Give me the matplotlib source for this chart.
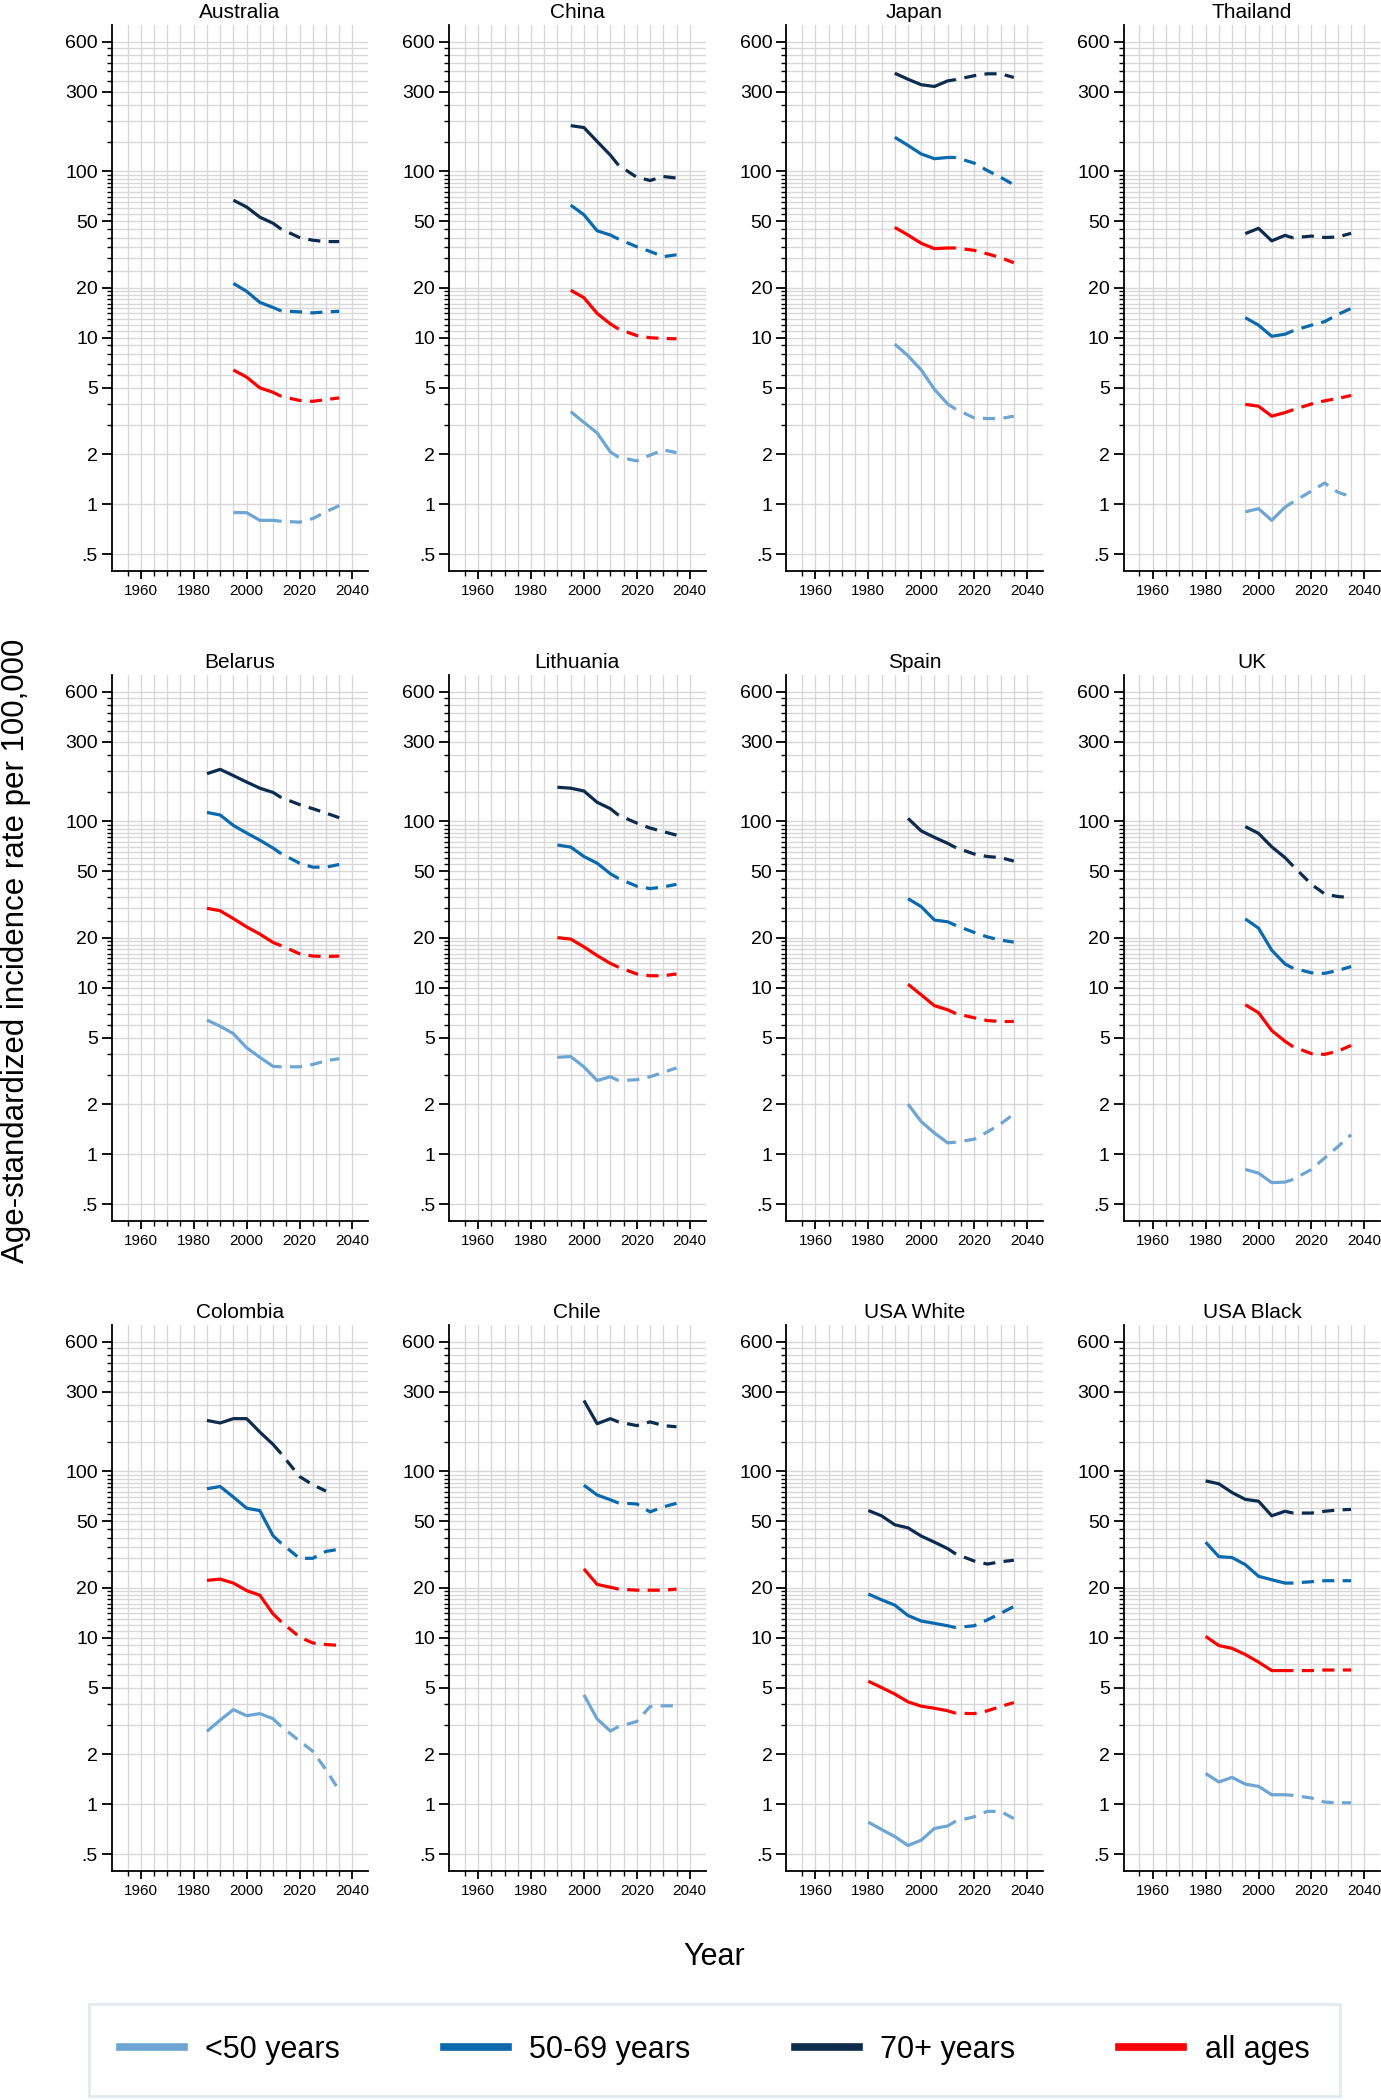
import numpy as np
import matplotlib
matplotlib.use('Agg')
import matplotlib.pyplot as plt
from matplotlib.lines import Line2D
from matplotlib.ticker import FixedLocator, FixedFormatter, NullFormatter

plt.rcParams['font.family'] = ['Liberation Sans', 'DejaVu Sans']

countries = ['Australia', 'China', 'Japan', 'Thailand',
             'Belarus', 'Lithuania', 'Spain', 'UK',
             'Colombia', 'Chile', 'USA White', 'USA Black']
obs_start = [1995, 1995, 1990, 1995, 1985, 1990, 1995, 1995, 1985, 2000, 1980, 1980]
last_obs = 2013
proj_years = [2020, 2025, 2030, 2035]

# <50 years
u50_obs = [[0.89, 0.89, 0.80, 0.80, 0.79],
           [3.6, 3.1, 2.68, 2.06, 1.92],
           [9.15, 7.8, 6.4, 4.9, 4.0, 3.73],
           [0.90, 0.94, 0.80, 0.96, 1.03],
           [6.4, 5.87, 5.3, 4.36, 3.82, 3.37, 3.35],
           [3.82, 3.86, 3.35, 2.77, 2.92, 2.77],
           [2.0, 1.57, 1.34, 1.17, 1.18],
           [0.81, 0.77, 0.675, 0.68, 0.705],
           [2.74, 3.2, 3.7, 3.4, 3.5, 3.26, 2.94],
           [4.54, 3.25, 2.75, 2.92],
           [0.78, 0.705, 0.64, 0.565, 0.608, 0.715, 0.74, 0.79],
           [1.53, 1.36, 1.45, 1.32, 1.28, 1.14, 1.14, 1.13]]
u50_proj = [[0.78, 0.82, 0.90, 0.98],
            [1.82, 1.97, 2.12, 2.04],
            [3.3, 3.27, 3.27, 3.38],
            [1.2, 1.34, 1.18, 1.11],
            [3.35, 3.46, 3.64, 3.75],
            [2.8, 2.92, 3.1, 3.3],
            [1.23, 1.36, 1.52, 1.74],
            [0.81, 0.95, 1.11, 1.31],
            [2.4, 2.08, 1.61, 1.21],
            [3.14, 3.86, 3.9, 3.9],
            [0.84, 0.906, 0.906, 0.82],
            [1.09, 1.03, 1.02, 1.02]]

# 50-69 years
mid_obs = [[21.2, 19.0, 16.3, 15.2, 14.5],
           [62.6, 54.8, 43.9, 41.4, 39.2],
           [160, 143, 127, 119, 121, 121],
           [13.2, 11.9, 10.2, 10.5, 11.0],
           [113, 109, 94.4, 85, 77, 69, 64],
           [72, 70, 61.4, 56, 48.4, 45.4],
           [34.3, 30.7, 25.5, 24.9, 23.7],
           [25.9, 22.8, 16.8, 13.9, 13.1],
           [78.5, 81, 70, 60, 58, 41, 37],
           [82.5, 72, 67.4, 64.5],
           [18.3, 16.9, 15.7, 13.6, 12.6, 12.2, 11.8, 11.5],
           [37.5, 30.7, 30.3, 27.5, 23.4, 22.3, 21.3, 21.3]]
mid_proj = [[14.3, 14.1, 14.3, 14.4],
            [35.2, 33, 30.7, 31.5],
            [112, 101, 92, 83],
            [11.9, 12.5, 13.8, 15.0],
            [56, 53, 53, 55],
            [40.7, 39.4, 40.3, 41.8],
            [21.5, 20.2, 19.3, 18.8],
            [12.3, 12.2, 12.7, 13.4],
            [30, 30, 33, 34],
            [63.6, 57, 61.1, 64.2],
            [11.8, 12.8, 14, 15.4],
            [21.7, 22, 22, 22]]

# 70+ years
old_obs = [[67, 61, 53, 48.7, 45],
           [188, 183, 151, 125, 109],
           [388, 357, 331, 323, 349, 355],
           [42.2, 45.4, 38.2, 41.2, 39.8],
           [193, 205, 188, 172, 158, 149, 139],
           [160, 158, 152, 130, 119, 109],
           [104, 87.5, 80, 73.7, 69.5],
           [92.9, 84.6, 70.2, 60.5, 54],
           [202, 195, 207, 207, 172, 145, 128],
           [266, 193, 207, 198],
           [58.1, 54, 47.7, 45.7, 40.8, 37.5, 34.3, 31.9],
           [87.5, 84.1, 74.5, 67.8, 66.1, 54, 57.5, 56.1]]
old_proj = [[40, 38.5, 37.8, 37.8],
            [92, 88, 93, 91],
            [375, 385, 385, 366],
            [40.8, 40, 40.3, 42.4],
            [126, 119, 112, 105],
            [97.5, 91, 86.7, 82.5],
            [63.6, 61.4, 60.5, 57.6],
            [41.8, 36.6, 35.3, 34.8],
            [93, 83, 76, np.nan],
            [188, 198, 188, 185],
            [28.9, 27.7, 28.6, 29.2],
            [56.1, 57.5, 58.5, 59]]

# all ages
all_obs = [[6.4, 5.8, 5.0, 4.7, 4.45],
           [19.3, 17.4, 14, 12.1, 11.3],
           [46, 41.4, 36.9, 34.3, 34.6, 34.6],
           [3.98, 3.88, 3.38, 3.55, 3.69],
           [30, 29, 26, 23.2, 21, 18.7, 17.9],
           [20, 19.6, 17.6, 15.6, 14, 13.3],
           [10.5, 9.06, 7.8, 7.37, 7.0],
           [7.9, 7.08, 5.53, 4.77, 4.43],
           [22.1, 22.5, 21.3, 19.2, 18, 13.9, 12.5],
           [25.9, 20.9, 20.1, 19.6],
           [5.48, 5.02, 4.59, 4.12, 3.88, 3.77, 3.64, 3.52],
           [10.2, 8.98, 8.63, 7.93, 7.14, 6.35, 6.35, 6.35]]
all_proj = [[4.2, 4.15, 4.25, 4.35],
            [10.3, 10, 9.9, 9.85],
            [33.5, 31.9, 30.3, 28.2],
            [4.0, 4.18, 4.32, 4.5],
            [16, 15.5, 15.4, 15.5],
            [12.1, 11.8, 11.8, 12.1],
            [6.6, 6.35, 6.27, 6.27],
            [4.02, 3.98, 4.16, 4.5],
            [10.1, 9.3, 9.1, 9.0],
            [19.3, 19.3, 19.3, 19.6],
            [3.5, 3.64, 3.86, 4.08],
            [6.35, 6.4, 6.4, 6.4]]

group_labels = ['<50 years', '50-69 years', '70+ years', 'all ages']
group_colors = ['#6fa5d3', '#0b69ae', '#0d2b4c', '#ff0000']
groups = [(u50_obs, u50_proj), (mid_obs, mid_proj), (old_obs, old_proj), (all_obs, all_proj)]

ytick_major = [0.5, 1, 2, 5, 10, 20, 50, 100, 300, 600]
ytick_labels = ['.5', '1', '2', '5', '10', '20', '50', '100', '300', '600']
ytick_minor = [3, 4, 6, 7, 8, 9] + list(range(11, 20)) + \
              [v for v in range(25, 100, 5) if v != 50] + \
              [v for v in range(150, 600, 50) if v != 300]
xtick_major = [1960, 1980, 2000, 2020, 2040]
xtick_minor = [v for v in range(1955, 2041, 5) if v not in xtick_major]

W, H = 1381, 2100
fig = plt.figure(figsize=(W / 100, H / 100), dpi=100)

ax_w, ax_h = 256.6, 546
dash = (3.6, (3.8, 2.6))

for i, name in enumerate(countries):
    r, c = divmod(i, 4)
    left = 111.7 + 337.3 * c
    top = 25 + 650 * r
    ax = fig.add_axes([left / W, 1 - (top + ax_h) / H, ax_w / W, ax_h / H])
    ax.set_yscale('log')

    yrs = list(range(obs_start[i], 2011, 5)) + [last_obs]
    for (obs, proj), col in zip(groups, group_colors):
        ax.plot(yrs, obs[i], color=col, lw=2.3, solid_capstyle='butt')
        ax.plot([last_obs] + proj_years, [obs[i][-1]] + proj[i], color=col, lw=2.3,
                linestyle=dash, dash_capstyle='butt')

    ax.set_xlim(1949, 2046)
    ax.set_ylim(0.397, 756)
    ax.yaxis.set_major_locator(FixedLocator(ytick_major))
    ax.yaxis.set_major_formatter(FixedFormatter(ytick_labels))
    ax.yaxis.set_minor_locator(FixedLocator(ytick_minor))
    ax.yaxis.set_minor_formatter(NullFormatter())
    ax.xaxis.set_major_locator(FixedLocator(xtick_major))
    ax.xaxis.set_minor_locator(FixedLocator(xtick_minor))

    ax.grid(which='both', color='#d8d8d8', lw=1.0)
    ax.set_axisbelow(True)
    for s in ['top', 'right']:
        ax.spines[s].set_visible(False)
    for s in ['left', 'bottom']:
        ax.spines[s].set_linewidth(1.3)

    ax.tick_params(axis='y', which='major', length=7, width=1.3, labelsize=14, pad=3)
    ax.tick_params(axis='y', which='minor', length=3.5, width=1.0)
    ax.tick_params(axis='x', which='major', length=6, width=1.3, labelsize=11, pad=3.5)
    ax.tick_params(axis='x', which='minor', length=3.5, width=1.0)
    ax.set_title(name, fontsize=15, pad=5)

fig.text(16 / W, 1 - 951 / H, 'Age-standardized incidence rate per 100,000',
         rotation=90, fontsize=22.5, ha='center', va='center')
fig.text(714 / W, 1 - 1957 / H, 'Year', fontsize=22, ha='center', va='center')

handles = [Line2D([], [], color=col, lw=5.5) for col in group_colors]
leg = fig.legend(handles, group_labels, ncol=4, loc='center',
                 bbox_to_anchor=(714.5 / W, 1 - 2050 / H), fontsize=22,
                 handlelength=2.1, handletextpad=0.7, columnspacing=3.4,
                 borderpad=1.0, frameon=True, fancybox=False)
leg.get_frame().set_edgecolor('#dde7eb')
leg.get_frame().set_linewidth(2.0)

fig.savefig('out.png', dpi=100)
